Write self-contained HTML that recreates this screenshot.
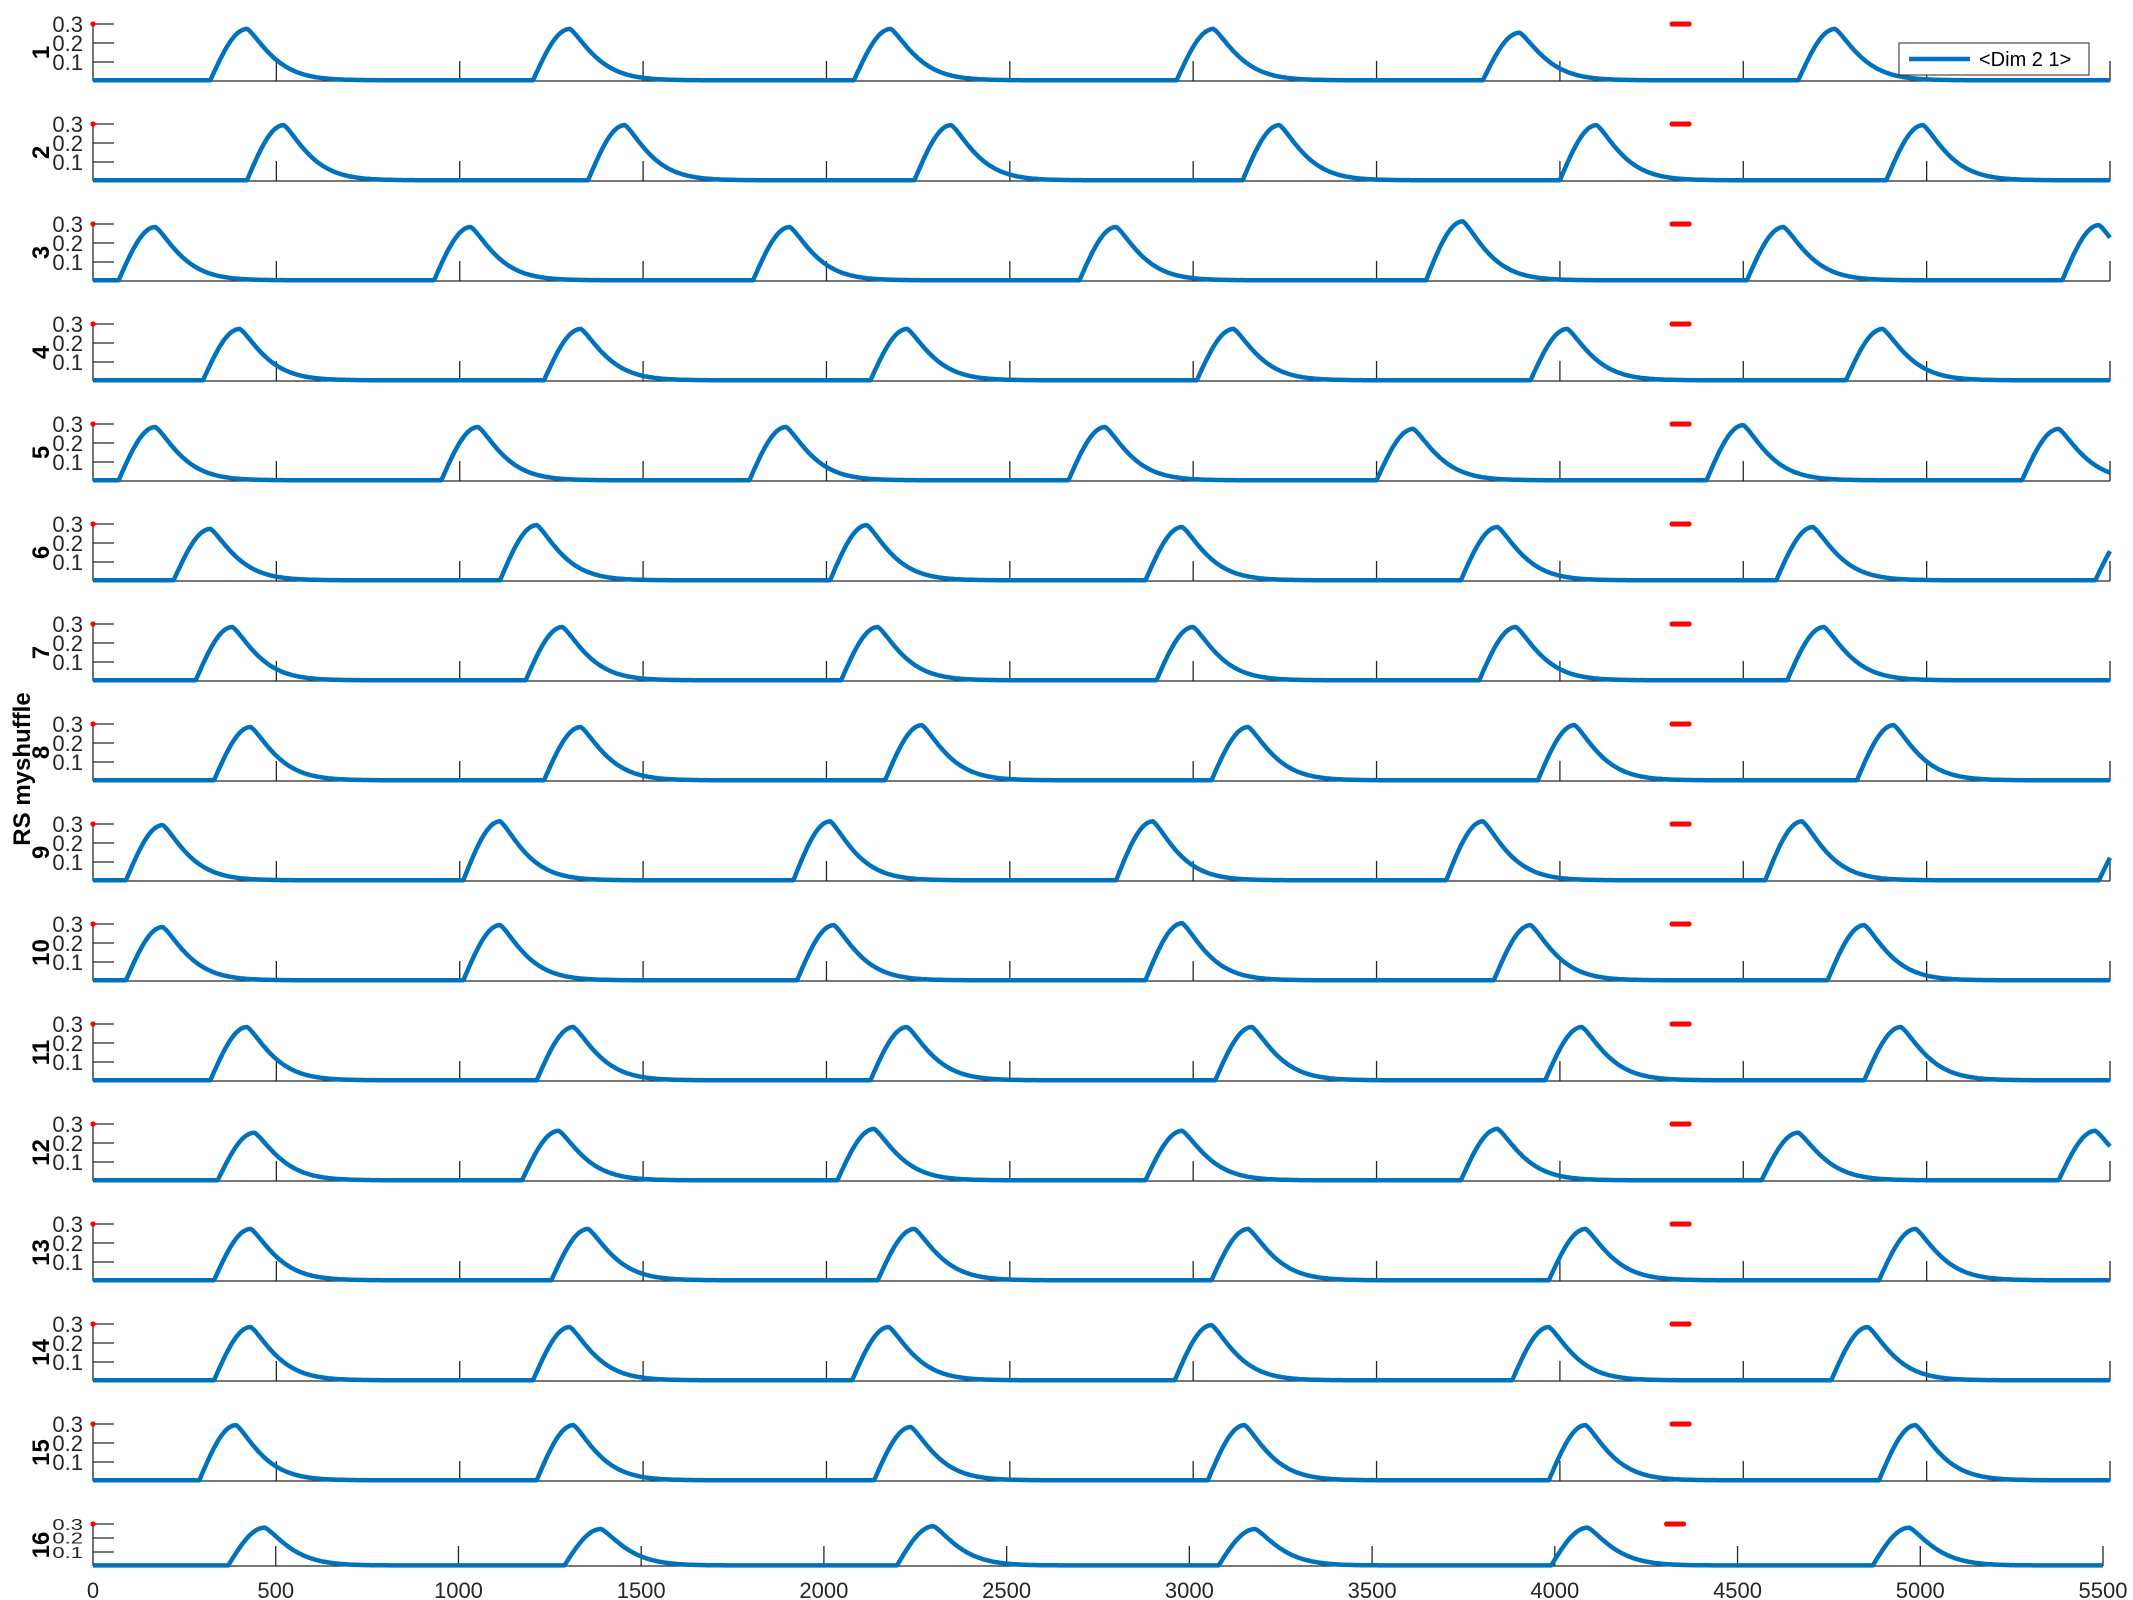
<!DOCTYPE html>
<html><head><meta charset="utf-8"><style>
html,body{margin:0;padding:0;background:#fff;}
svg{display:block;font-family:"Liberation Sans",sans-serif;}
</style></head><body>
<svg id="chart" width="2133" height="1600" viewBox="0 0 2133 1600" xmlns="http://www.w3.org/2000/svg">
<text transform="translate(30,769) rotate(-90)" text-anchor="middle" font-size="24" font-weight="bold" fill="#000">RS myshuffle</text>
<g id="panels"></g>
<g>
<rect x="1899" y="43" width="190" height="32" fill="#fff" stroke="#262626" stroke-width="1"/>
<line x1="1909" y1="59" x2="1970" y2="59" stroke="#0072BD" stroke-width="4.5"/>
<text x="1979" y="66" font-size="20" fill="#000">&lt;Dim 2 1&gt;</text>
</g>
</svg>
<script>
// Peak centers (x units) for each of the 16 panels
const peakCenters = [
 [420,1300,2175,3055,3890,4750,5600],
 [520,1450,2340,3235,4100,4990],
 [170,1030,1900,2790,3735,4610,5470],
 [400,1330,2220,3110,4020,4880],
 [170,1050,1890,2760,3600,4500,5360],
 [320,1210,2110,2970,3830,4690,5560],
 [380,1280,2140,3000,3880,4720],
 [430,1330,2260,3150,4040,4910],
 [190,1110,2010,2890,3790,4660,5570],
 [190,1110,2020,2970,3920,4830],
 [420,1310,2220,3160,4060,4930],
 [440,1270,2130,2970,3830,4650,5460],
 [430,1350,2240,3150,4070,4970],
 [430,1300,2170,3050,3970,4840],
 [390,1310,2230,3140,4070,4970],
 [470,1390,2300,3180,4090,4970]
];
// Peak heights for each panel
const peakHeights = [
 [0.27,0.27,0.27,0.27,0.25,0.27,0.27],
 [0.29,0.29,0.29,0.29,0.29,0.29],
 [0.28,0.28,0.28,0.28,0.31,0.28,0.29],
 [0.27,0.27,0.27,0.27,0.27,0.27],
 [0.28,0.28,0.28,0.28,0.27,0.29,0.27],
 [0.27,0.29,0.29,0.28,0.28,0.28,0.26],
 [0.28,0.28,0.28,0.28,0.28,0.28],
 [0.28,0.28,0.29,0.28,0.29,0.29],
 [0.29,0.31,0.31,0.31,0.31,0.31,0.26],
 [0.28,0.29,0.29,0.30,0.29,0.29],
 [0.28,0.28,0.28,0.28,0.28,0.28],
 [0.25,0.26,0.27,0.26,0.27,0.25,0.26],
 [0.27,0.27,0.27,0.27,0.27,0.27],
 [0.28,0.28,0.28,0.29,0.28,0.28],
 [0.29,0.29,0.28,0.29,0.29,0.29],
 [0.27,0.26,0.28,0.26,0.27,0.27]
];
const panelLabels = ["1","2","3","4","5","6","7","8","9","10","11","12","13","14","15","16"];
const xTicks = [0,500,1000,1500,2000,2500,3000,3500,4000,4500,5000,5500];
const xTickLabels = ["0","500","1000","1500","2000","2500","3000","3500","4000","4500","5000","5500"];
const yTicks = [0.1,0.2,0.3];
const yTickLabels = ["0.1","0.2","0.3"];
const markerX = [4306,4313,4320,4327,4334,4341,4348,4352];
const markerY = 0.3;
const xMax = 5500;

const NS = "http://www.w3.org/2000/svg";
const root = document.getElementById('panels');
function mk(tag, attrs, parent){const e=document.createElementNS(NS,tag);for(const k in attrs)e.setAttribute(k,attrs[k]);parent.appendChild(e);return e;}

function curveVal(x, cs, hs){
  let v = 0.004;
  for(let i=0;i<cs.length;i++){
    const t = x - cs[i];
    if(t<0 && t>-100){ v += hs[i]*Math.sin(Math.PI/2*(1+t/100)); }
    else if(t>=0){ v += hs[i]*Math.exp(-Math.pow(t/85,1.3)); }
  }
  return v;
}

for(let p=0;p<16;p++){
  const last = p===15;
  const base = last ? 1566 : 81 + 100*p;
  const yScale = last ? 140 : 190;
  const x0 = 93, x1 = last ? 2103 : 2110;
  const sx = v => x0 + v*(x1-x0)/xMax;
  const sy = v => base - v*yScale;
  const g = mk('g',{},root);
  
  
  // axes
  const xa = mk('line',{x1:x0,y1:base,x2:x1,y2:base,stroke:'#262626','stroke-width':1.3},g);
  
  
  const ya = mk('line',{x1:x0,y1:base,x2:x0,y2:sy(0.3),stroke:'#262626','stroke-width':1.3},g);
  
  
  xTicks.forEach((t,i)=>{
    if(t===0) return;
    const l = mk('line',{x1:sx(t),y1:base,x2:sx(t),y2:base-20,stroke:'#262626','stroke-width':1.3},g);
    
    
  });
  yTicks.forEach((t,i)=>{
    const l = mk('line',{x1:x0,y1:sy(t),x2:x0+21,y2:sy(t),stroke:'#262626','stroke-width':1.3},g);
    
    
    const tx = mk('text',{x:83,y:sy(t),'text-anchor':'end','font-size':22,fill:'#262626',
      transform: last ? `translate(0,${sy(t)}) scale(1,0.72) translate(0,${-sy(t)})` : ''},g);
    tx.setAttribute('dy','8');
    tx.textContent = yTickLabels[i];
    
    
  });
  const lbY = (base + sy(0.3))/2;
  const lb = mk('text',{transform:`translate(49,${lbY}) rotate(-90)`,'text-anchor':'middle','font-size':24,'font-weight':'bold',fill:'#000'},g);
  lb.textContent = panelLabels[p];
  
  
  // series
  let d='';
  for(let x=0;x<=xMax;x+=5){
    const v = Math.min(curveVal(x, peakCenters[p], peakHeights[p]), 0.32);
    d += (x===0?'M':'L')+sx(x).toFixed(1)+','+sy(v).toFixed(1);
  }
  const path = mk('path',{d:d,fill:'none',stroke:'#0072BD','stroke-width':4.5,'stroke-linejoin':'round'},g);
  
  
  // red markers
  const c0 = mk('circle',{cx:sx(0),cy:sy(markerY),r:2.6,fill:'#ff0000'},g);
  
  
  markerX.forEach(m=>{
    const c = mk('circle',{cx:sx(m),cy:sy(markerY),r:2.6,fill:'#ff0000'},g);
    
    
  });
  if(last){
    xTicks.forEach((t,i)=>{
      const tx = mk('text',{x:sx(t),y:1598,'text-anchor':'middle','font-size':22,fill:'#262626'},g);
      tx.textContent = xTickLabels[i];
      
      
    });
  }
}
</script>
</body></html>
